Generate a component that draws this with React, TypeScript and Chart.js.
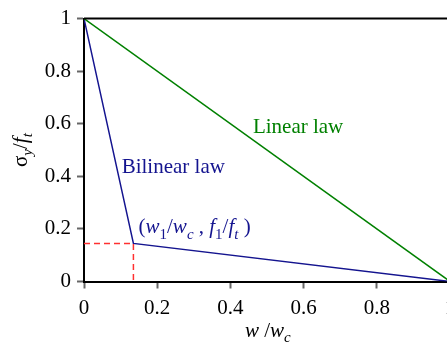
import React, { useEffect, useRef } from "react";
import { Chart, registerables } from "chart.js";

Chart.register(...registerables);

const linearX = [0, 1];
const linearY = [1, 0];
const bilinearX = [0, 0.135, 1];
const bilinearY = [1, 0.145, 0];
const kneeX = [0, 0.135, 0.135];
const kneeY = [0.145, 0.145, 0];
const xTickValues = [0, 0.2, 0.4, 0.6, 0.8, 1];
const yTickValues = [0, 0.2, 0.4, 0.6, 0.8, 1];

const FONT = '"Liberation Serif", "Times New Roman", serif';
const SIZE = 21;
const GREEN = "#008000";
const NAVY = "#14148f";
const RED = "#ff3030";

type Seg = { t: string; i?: boolean; sub?: boolean };

function drawRich(ctx: CanvasRenderingContext2D, segs: Seg[], x: number, y: number, color: string) {
  ctx.save();
  ctx.fillStyle = color;
  ctx.textAlign = "left";
  ctx.textBaseline = "alphabetic";
  let cx = x;
  for (const s of segs) {
    const sz = s.sub ? Math.round(SIZE * 0.7) : SIZE;
    ctx.font = `${s.i ? "italic " : ""}${sz}px ${FONT}`;
    ctx.fillText(s.t, cx, y + (s.sub ? SIZE * 0.25 : 0));
    cx += ctx.measureText(s.t).width;
  }
  ctx.restore();
}

const toPts = (xs: number[], ys: number[]) => xs.map((x, k) => ({ x, y: ys[k] }));

const labelsPlugin = {
  id: "labelsPlugin",
  afterDraw(chart: any) {
    const ctx: CanvasRenderingContext2D = chart.ctx;
    const xs = chart.scales.x;
    const ys = chart.scales.y;
    const ca = chart.chartArea;
    // top border
    ctx.save();
    ctx.strokeStyle = "#000";
    ctx.lineWidth = 2;
    ctx.beginPath();
    ctx.moveTo(ca.left, ca.top);
    ctx.lineTo(ca.right, ca.top);
    ctx.stroke();
    ctx.restore();

    ctx.save();
    ctx.font = `${SIZE}px ${FONT}`;
    ctx.fillStyle = GREEN;
    ctx.textBaseline = "alphabetic";
    ctx.fillText("Linear law", xs.getPixelForValue(0.4615), ys.getPixelForValue(0.565));
    ctx.fillStyle = NAVY;
    ctx.fillText("Bilinear law", xs.getPixelForValue(0.103), ys.getPixelForValue(0.414));
    ctx.restore();

    drawRich(
      ctx,
      [
        { t: "(" },
        { t: "w", i: true },
        { t: "1", sub: true },
        { t: "/" },
        { t: "w", i: true },
        { t: "c", i: true, sub: true },
        { t: " , " },
        { t: "f", i: true },
        { t: "1", sub: true },
        { t: "/" },
        { t: "f", i: true },
        { t: "t", i: true, sub: true },
        { t: " )" },
      ],
      xs.getPixelForValue(0.149),
      ys.getPixelForValue(0.183),
      NAVY
    );

    // x axis title
    drawRich(
      ctx,
      [{ t: "w", i: true }, { t: " /" }, { t: "w", i: true }, { t: "c", i: true, sub: true }],
      245,
      337,
      "#000"
    );

    // y axis title
    ctx.save();
    ctx.translate(27, 167);
    ctx.rotate(-Math.PI / 2);
    drawRich(
      ctx,
      [{ t: "σ" }, { t: "y", i: true, sub: true }, { t: "/" }, { t: "f", i: true }, { t: "t", i: true, sub: true }],
      0,
      0,
      "#000"
    );
    ctx.restore();
  },
};

export default function App() {
  const ref = useRef<HTMLCanvasElement | null>(null);
  useEffect(() => {
    if (!ref.current) return;
    const chart = new Chart(ref.current, {
      type: "scatter",
      data: {
        datasets: [
          {
            data: toPts(kneeX, kneeY),
            showLine: true,
            borderColor: RED,
            borderWidth: 1.5,
            borderDash: [6, 4],
            pointRadius: 0,
          },
          {
            data: toPts(linearX, linearY),
            showLine: true,
            borderColor: GREEN,
            borderWidth: 1.5,
            pointRadius: 0,
          },
          {
            data: toPts(bilinearX, bilinearY),
            showLine: true,
            borderColor: NAVY,
            borderWidth: 1.5,
            pointRadius: 0,
          },
        ],
      },
      options: {
        responsive: false,
        animation: false,
        layout: { padding: { top: 15, right: 20, left: 0, bottom: 0 } },
        plugins: { legend: { display: false }, tooltip: { enabled: false } },
        scales: {
          x: {
            type: "linear",
            min: 0,
            max: 1,
            afterFit: (s: any) => {
              s.height = 63.5;
            },
            afterBuildTicks: (s: any) => {
              s.ticks = xTickValues.map((v) => ({ value: v }));
            },
            ticks: {
              color: "#000",
              font: { family: FONT, size: SIZE },
              padding: 7,
              maxRotation: 0,
              autoSkip: false,
              callback: (v: any) => String(v),
            },
            grid: { drawOnChartArea: false, drawTicks: true, tickLength: 7, tickColor: "#666", tickWidth: 2 },
            border: { color: "#000", width: 2 },
          },
          y: {
            type: "linear",
            min: 0,
            max: 1,
            afterFit: (s: any) => {
              s.width = 84;
            },
            afterBuildTicks: (s: any) => {
              s.ticks = yTickValues.map((v) => ({ value: v }));
            },
            ticks: {
              color: "#000",
              font: { family: FONT, size: SIZE },
              padding: 6,
              autoSkip: false,
              callback: (v: any) => String(v),
            },
            grid: { drawOnChartArea: false, drawTicks: true, tickLength: 7, tickColor: "#666", tickWidth: 2 },
            border: { color: "#000", width: 2 },
          },
        },
      },
      plugins: [labelsPlugin],
    });
    return () => chart.destroy();
  }, []);
  return (
    <div style={{ position: "fixed", left: 0, top: 0, width: 470, height: 345, background: "#fff" }}>
      <canvas ref={ref} width={470} height={345} style={{ display: "block" }} />
    </div>
  );
}
